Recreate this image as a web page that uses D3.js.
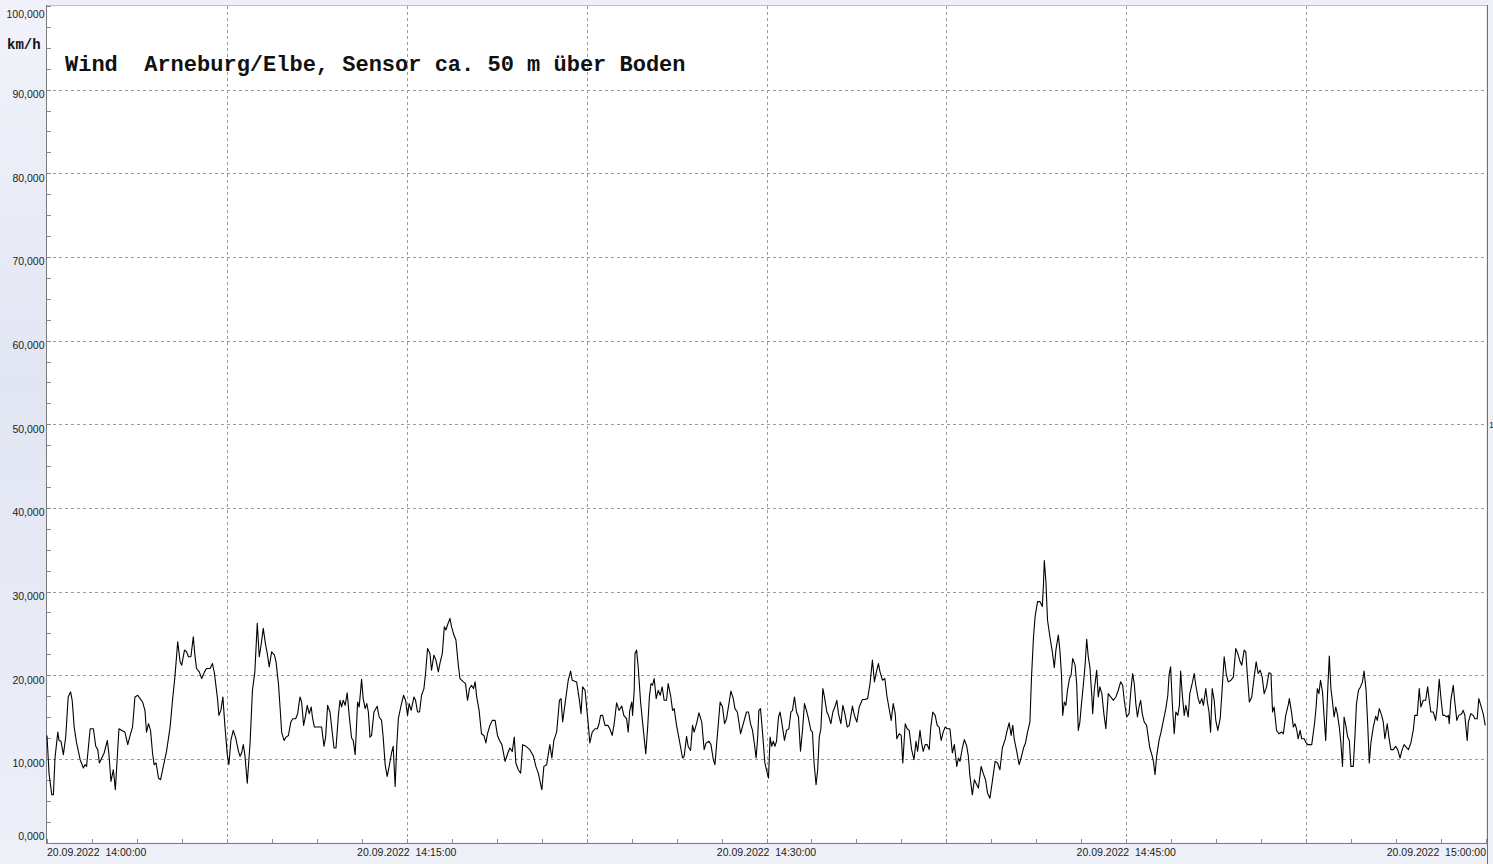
<!DOCTYPE html>
<html>
<head>
<meta charset="utf-8">
<script src="https://cdn.jsdelivr.net/npm/d3@7"></script>
<style>
  html, body { margin: 0; padding: 0; background: #eef0f8; }
  svg { display: block; }
</style>
</head>
<body>
<svg id="chart" width="1493" height="864"></svg>
<script>
// ---------- data ----------
const chartTitle = "Wind  Arneburg/Elbe, Sensor ca. 50 m über Boden";
const unitLabel = "km/h";
const yTickValues = [0, 10, 20, 30, 40, 50, 60, 70, 80, 90, 100];
const xTickSeconds = [0, 900, 1800, 2700, 3600];
const xTickLabels = ["20.09.2022  14:00:00", "20.09.2022  14:15:00", "20.09.2022  14:30:00", "20.09.2022  14:45:00", "20.09.2022  15:00:00"];
const xGridSeconds = [450, 900, 1350, 1800, 2250, 2700, 3150];
const xMinorStep = 112.5;   // seconds between small ticks
const yMinorStep = 2.5;     // km/h between small ticks
const rightMarker = "1";

// [seconds after 14:00:00, wind speed km/h]
const windSamples = [
[0,12.8],[5,8.3],[12,5.7],[16,5.7],[20,10.1],[27,13.2],[30,12.2],[35,12.1],[41,10.5],[47,12.7],[53,17.4],[59,18.0],[63,17.0],[68,13.8],[74,11.9],[83,9.9],[91,8.9],[95,9.3],[99,9.1],[108,13.6],[116,13.6],[122,11.5],[127,11.1],[131,9.5],[135,9.9],[143,10.7],[151,12.2],[155,10.5],[160,7.3],[166,8.7],[171,6.3],[180,13.6],[187,13.4],[195,13.2],[202,11.7],[208,12.8],[214,13.8],[220,17.4],[227,17.6],[233,17.2],[239,16.8],[245,15.8],[249,13.2],[254,14.2],[259,13.4],[264,10.7],[268,9.3],[273,9.5],[279,7.7],[284,7.5],[291,9.1],[299,10.9],[308,13.8],[314,17.0],[320,19.8],[327,24.0],[333,21.6],[337,21.2],[344,23.0],[349,22.8],[354,22.2],[360,22.2],[366,24.6],[370,22.4],[374,20.8],[381,20.4],[387,19.6],[394,20.4],[399,20.8],[408,20.8],[414,21.4],[419,20.2],[423,18.6],[427,17.0],[430,15.2],[435,15.8],[440,17.4],[445,14.0],
[451,10.5],[455,9.3],[460,12.2],[466,13.4],[472,12.5],[479,10.9],[483,10.3],[487,10.7],[491,11.7],[495,10.5],[501,7.1],[508,11.9],[514,18.2],[520,20.4],[526,26.2],[531,22.2],[535,23.4],[541,25.6],[547,23.6],[551,22.6],[556,21.0],[562,22.8],[569,22.4],[573,21.6],[579,19.0],[583,16.2],[587,13.2],[593,12.2],[598,12.6],[604,12.8],[610,14.4],[615,14.8],[622,14.8],[627,15.4],[633,17.4],[637,16.8],[642,14.0],[647,15.2],[651,16.4],[656,15.4],[661,16.2],[664,15.0],[669,13.8],[677,13.8],[687,13.8],[693,11.5],[697,12.6],[702,16.4],[708,15.6],[714,13.0],[718,11.3],[723,11.3],[729,15.2],[733,17.0],[737,16.2],[741,17.0],[746,16.4],[751,17.9],[756,15.2],[762,12.5],[766,12.2],[771,10.5],[775,14.6],[777,16.8],[781,16.2],[787,19.5],[791,17.2],[796,16.0],[800,16.6],[804,15.6],[808,12.6],[812,12.8],[818,15.6],[826,16.3],[831,15.0],[837,14.6],[841,12.6],[846,9.3],[851,7.9],[856,9.1],[862,10.7],[866,11.5],[871,6.7],[875,11.5],[879,14.8],[885,16.2],[892,17.6],[897,17.0],[902,15.2],
[906,16.6],[911,15.8],[918,17.4],[922,17.0],[927,15.6],[932,15.6],[937,17.6],[943,18.4],[947,20.2],[952,23.2],[958,22.6],[962,20.6],[968,22.4],[973,21.8],[979,20.4],[983,21.4],[989,22.6],[994,25.8],[998,25.4],[1002,26.0],[1008,26.8],[1012,25.8],[1018,24.8],[1023,24.2],[1029,21.2],[1033,19.6],[1042,19.2],[1047,19.0],[1052,17.0],[1057,18.4],[1062,18.8],[1067,18.4],[1071,19.2],[1075,17.4],[1081,15.8],[1087,13.0],[1093,12.8],[1098,11.9],[1102,13.0],[1108,14.0],[1114,14.6],[1121,14.6],[1127,12.8],[1132,12.2],[1138,11.7],[1146,9.7],[1153,10.7],[1158,11.3],[1164,10.9],[1169,12.6],[1173,9.5],[1179,8.7],[1185,8.3],[1190,11.7],[1198,11.5],[1208,11.1],[1217,10.3],[1223,9.1],[1229,8.3],[1238,6.3],[1243,9.1],[1250,9.3],[1254,10.5],[1258,11.7],[1263,10.1],[1268,12.2],[1275,13.2],[1282,17.0],[1286,17.2],[1290,14.4],[1296,16.6],[1304,19.4],[1310,20.5],[1314,19.4],[1325,19.2],[1332,17.0],[1336,15.4],[1340,18.6],[1346,18.2],[1350,16.2],[1354,14.2],
[1358,11.9],[1364,13.2],[1371,13.6],[1377,13.6],[1381,14.2],[1385,15.2],[1390,15.2],[1396,14.0],[1403,14.0],[1408,13.6],[1414,12.8],[1419,14.2],[1425,16.7],[1431,15.8],[1438,16.3],[1443,15.2],[1450,14.8],[1454,13.2],[1458,15.8],[1463,16.8],[1465,15.2],[1469,18.2],[1471,22.6],[1475,23.0],[1479,21.0],[1485,16.8],[1492,13.4],[1498,10.6],[1503,14.0],[1507,17.4],[1511,19.0],[1515,18.8],[1519,19.6],[1524,17.2],[1529,18.2],[1534,17.6],[1539,18.6],[1544,17.0],[1550,17.0],[1554,19.0],[1560,17.6],[1565,15.8],[1569,16.0],[1575,14.0],[1582,12.2],[1590,10.1],[1594,10.3],[1600,12.7],[1604,11.5],[1610,11.0],[1615,14.0],[1619,13.2],[1625,14.2],[1631,15.5],[1638,14.4],[1644,11.1],[1649,11.9],[1656,12.1],[1661,11.7],[1667,9.9],[1671,9.3],[1676,12.2],[1684,16.8],[1690,16.2],[1695,14.2],[1700,14.8],[1706,16.6],[1711,18.1],[1717,17.2],[1721,16.0],[1727,15.6],[1731,14.4],[1735,13.0],[1742,14.2],[1750,15.6],[1755,15.6],[1760,14.2],[1765,13.4],[1770,11.7],[1774,10.1],[1778,12.6],[1781,15.8],[1785,16.0],[1790,13.2],[1796,9.5],
[1805,7.7],[1809,12.6],[1813,11.5],[1817,12.1],[1821,11.5],[1825,12.1],[1830,15.0],[1834,15.6],[1840,13.8],[1845,12.2],[1850,13.4],[1856,13.6],[1861,15.6],[1865,15.8],[1870,17.4],[1875,15.6],[1880,15.0],[1885,10.9],[1890,13.4],[1895,16.6],[1901,15.6],[1905,14.8],[1911,13.4],[1915,13.2],[1919,9.5],[1924,6.9],[1928,8.7],[1932,12.6],[1936,13.6],[1941,18.4],[1945,17.4],[1951,15.6],[1955,15.2],[1961,14.2],[1966,15.6],[1971,16.2],[1976,17.0],[1980,15.4],[1986,14.2],[1991,16.4],[1996,15.4],[2002,13.8],[2007,14.0],[2015,16.3],[2020,15.2],[2026,14.4],[2032,16.2],[2040,17.1],[2046,17.1],[2053,17.2],[2059,19.0],[2065,21.8],[2070,19.2],[2074,20.2],[2080,21.4],[2084,20.4],[2090,19.4],[2096,19.6],[2101,17.6],[2106,16.2],[2112,14.6],[2117,16.6],[2122,15.4],[2126,12.4],[2132,13.0],[2137,12.8],[2141,9.5],[2147,14.2],[2152,13.6],[2157,13.4],[2163,11.1],[2169,9.9],[2174,12.1],[2178,10.9],[2184,13.4],[2188,11.9],[2192,10.9],[2197,11.7],[2202,11.7],[2207,11.1],[2211,13.8],[2216,15.6],[2222,15.2],[2227,14.0],[2232,13.8],[2237,12.2],[2242,13.2],[2247,13.8],[2252,13.6],
[2259,13.6],[2265,10.7],[2270,11.7],[2276,9.1],[2280,10.1],[2284,9.7],[2290,11.3],[2295,12.3],[2301,11.5],[2305,10.3],[2309,7.9],[2315,5.7],[2320,7.5],[2326,6.9],[2330,6.5],[2337,9.1],[2342,8.3],[2348,7.5],[2353,5.9],[2359,5.3],[2365,7.3],[2372,9.7],[2378,9.5],[2384,8.7],[2390,11.3],[2397,12.3],[2401,13.2],[2407,14.3],[2412,12.8],[2416,14.0],[2420,12.3],[2426,10.9],[2432,9.3],[2437,10.1],[2443,11.3],[2448,11.9],[2453,13.2],[2459,14.4],[2463,19.8],[2468,24.6],[2472,27.0],[2478,28.8],[2484,28.8],[2490,28.2],[2493,31.0],[2495,33.7],[2499,31.2],[2503,26.6],[2509,24.6],[2515,22.8],[2520,20.9],[2524,23.0],[2530,24.8],[2534,23.0],[2538,20.0],[2541,15.2],[2545,16.8],[2549,16.4],[2553,18.2],[2558,19.6],[2562,20.0],[2566,22.0],[2572,21.2],[2576,19.0],[2580,13.4],[2584,14.4],[2588,16.6],[2593,19.0],[2597,21.2],[2601,24.3],[2605,22.2],[2609,21.0],[2614,17.4],[2616,15.4],[2620,18.2],[2626,20.6],[2630,17.4],[2634,18.6],[2639,17.8],[2644,15.4],[2649,13.6],[2655,17.8],[2661,17.4],[2668,17.0],[2674,17.4],[2680,18.2],[2686,19.2],[2691,18.8],[2695,17.0],[2701,15.0],
[2707,15.4],[2712,18.4],[2716,20.2],[2720,19.0],[2724,16.6],[2728,15.0],[2732,16.2],[2736,17.0],[2740,15.4],[2745,14.4],[2751,14.0],[2755,12.6],[2759,11.3],[2764,10.5],[2768,9.7],[2772,8.1],[2776,10.3],[2782,12.2],[2787,13.2],[2793,14.6],[2799,16.0],[2804,17.6],[2807,20.0],[2811,21.0],[2815,16.8],[2820,13.0],[2824,15.6],[2829,15.2],[2833,16.4],[2836,20.5],[2840,17.8],[2845,15.2],[2849,16.4],[2855,15.0],[2859,17.8],[2864,18.8],[2870,20.2],[2874,18.8],[2880,17.2],[2884,16.6],[2889,17.2],[2893,16.4],[2899,18.4],[2903,16.8],[2907,15.6],[2911,13.2],[2915,18.4],[2920,17.0],[2924,14.6],[2929,13.4],[2935,14.8],[2940,18.4],[2945,22.2],[2950,20.2],[2955,19.2],[2962,19.4],[2968,19.8],[2974,23.2],[2979,22.6],[2985,21.6],[2989,21.2],[2995,23.0],[2999,22.8],[3003,20.0],[3008,16.8],[3014,17.4],[3020,19.8],[3025,21.6],[3030,20.2],[3035,20.6],[3040,19.8],[3045,17.8],[3051,18.6],[3057,20.3],[3062,20.2],[3066,15.6],[3070,16.2],[3076,13.4],[3082,13.0],[3089,13.2],[3093,13.0],[3099,15.2],[3106,16.6],[3108,17.2],[3114,15.4],[3118,13.8],[3122,14.2],[3126,13.6],[3130,12.4],[3135,13.4],[3139,12.4],[3145,12.4],[3149,12.0],[3154,11.7],
[3160,11.7],[3164,11.7],[3171,14.2],[3175,16.2],[3178,18.4],[3182,17.8],[3186,19.4],[3191,18.0],[3195,15.0],[3199,12.2],[3204,18.2],[3208,22.3],[3212,18.4],[3216,16.8],[3220,15.0],[3224,16.2],[3228,15.4],[3233,13.8],[3237,11.9],[3241,9.1],[3245,15.0],[3250,13.8],[3254,12.6],[3258,12.2],[3262,9.1],[3268,9.1],[3272,12.6],[3276,16.6],[3281,18.2],[3286,18.6],[3291,19.2],[3295,20.5],[3300,18.2],[3304,14.2],[3308,9.5],[3312,11.9],[3318,13.8],[3324,15.1],[3328,14.6],[3333,16.0],[3339,15.2],[3343,14.4],[3347,12.4],[3353,14.2],[3357,12.6],[3362,11.1],[3368,11.1],[3374,11.5],[3379,11.1],[3385,10.1],[3389,10.9],[3395,11.7],[3402,11.3],[3406,11.1],[3412,11.9],[3418,13.4],[3422,15.2],[3428,15.2],[3433,18.4],[3437,16.2],[3443,17.0],[3449,17.0],[3454,18.6],[3458,17.0],[3462,15.6],[3468,15.6],[3474,14.6],[3478,16.2],[3483,19.5],[3487,17.4],[3492,15.2],[3497,15.2],[3502,15.0],[3506,15.2],[3508,14.2],[3512,17.0],[3518,18.8],[3522,16.8],[3527,14.6],[3532,15.2],[3539,15.4],[3543,15.8],[3547,15.2],[3553,12.2],[3556,14.4],[3562,15.4],[3568,15.2],[3572,14.8],[3578,14.8],[3582,17.2],[3587,16.4],[3593,15.4],[3598,14.0]
];

// ---------- layout ----------
const W = 1493, H = 864;
const plot = { left: 47, right: 1486, top: 6, bottom: 842.5 };

const svg = d3.select("#chart");
const defs = svg.append("defs");
const lg = defs.append("linearGradient").attr("id", "leftBg").attr("x1", 0).attr("y1", 0).attr("x2", 0).attr("y2", 1);
lg.append("stop").attr("offset", "0%").attr("stop-color", "#f2f3fa");
lg.append("stop").attr("offset", "45%").attr("stop-color", "#e2e6f3");
lg.append("stop").attr("offset", "100%").attr("stop-color", "#eceff8");

svg.append("rect").attr("x", 0).attr("y", 0).attr("width", W).attr("height", H).attr("fill", "#eef0f8");
svg.append("rect").attr("x", 0).attr("y", 0).attr("width", plot.left).attr("height", plot.bottom).attr("fill", "url(#leftBg)");

const x = d3.scaleLinear().domain([0, 3600]).range([plot.left, plot.right]);
const y = d3.scaleLinear().domain([0, 100]).range([plot.bottom, plot.top]);

// plot background
svg.append("rect")
  .attr("x", plot.left).attr("y", plot.top)
  .attr("width", plot.right - plot.left).attr("height", plot.bottom - plot.top)
  .attr("fill", "#ffffff");

// grid lines
const grid = svg.append("g").attr("stroke", "#9a9a9a").attr("stroke-width", 1).attr("stroke-dasharray", "3,3").attr("shape-rendering", "crispEdges");
grid.selectAll("line.h").data(yTickValues.filter(v => v > 0 && v < 100)).join("line")
  .attr("x1", plot.left).attr("x2", plot.right)
  .attr("y1", d => Math.round(y(d)) + 0.5).attr("y2", d => Math.round(y(d)) + 0.5);
grid.selectAll("line.v").data(xGridSeconds).join("line")
  .attr("y1", plot.top).attr("y2", plot.bottom)
  .attr("x1", d => Math.round(x(d)) + 0.5).attr("x2", d => Math.round(x(d)) + 0.5);

// frame
const frame = svg.append("g").attr("shape-rendering", "crispEdges").attr("stroke-width", 1);
frame.append("line").attr("x1", plot.left).attr("x2", plot.right + 1).attr("y1", plot.top - 0.5).attr("y2", plot.top - 0.5).attr("stroke", "#b8bccb");
frame.append("line").attr("x1", plot.right + 1.5).attr("x2", plot.right + 1.5).attr("y1", plot.top - 1).attr("y2", H).attr("stroke", "#707070");
frame.append("line").attr("x1", plot.left - 0.5).attr("x2", plot.left - 0.5).attr("y1", plot.top - 1).attr("y2", plot.bottom + 1).attr("stroke", "#7a7a7a");
frame.append("line").attr("x1", plot.left - 1).attr("x2", plot.right + 1).attr("y1", Math.round(plot.bottom) + 0.5).attr("y2", Math.round(plot.bottom) + 0.5).attr("stroke", "#7a7a7a");

// y minor ticks (inside, from the left axis)
const yMinor = d3.range(0, 100 + 0.001, yMinorStep);
svg.append("g").attr("stroke", "#8a8a8a").attr("shape-rendering", "crispEdges")
  .selectAll("line").data(yMinor).join("line")
  .attr("x1", plot.left).attr("x2", plot.left + 4)
  .attr("y1", d => Math.round(y(d)) + 0.5).attr("y2", d => Math.round(y(d)) + 0.5);

// x minor ticks (inside, from the bottom axis)
const xMinor = d3.range(0, 3600 + 0.001, xMinorStep);
svg.append("g").attr("stroke", "#8a8a8a").attr("shape-rendering", "crispEdges")
  .selectAll("line").data(xMinor).join("line")
  .attr("y1", Math.round(plot.bottom)).attr("y2", Math.round(plot.bottom) - 4)
  .attr("x1", d => Math.round(x(d)) + 0.5).attr("x2", d => Math.round(x(d)) + 0.5);

// y labels
const fmt = v => d3.format(".3f")(v).replace(".", ",");
svg.append("g").attr("font-family", "'Liberation Sans', Arial, sans-serif").attr("font-size", "10.5px").attr("fill", "#222")
  .selectAll("text").data(yTickValues).join("text")
  .attr("x", 44.5)
  .attr("y", d => Math.min(840, Math.max(17.5, y(d) + 8.5)))
  .attr("text-anchor", "end")
  .text(d => fmt(d));

// x labels
svg.append("g").attr("font-family", "'Liberation Sans', Arial, sans-serif").attr("font-size", "10.5px").attr("fill", "#222")
  .selectAll("text").data(xTickSeconds).join("text")
  .attr("x", d => x(d))
  .attr("y", 856)
  .attr("text-anchor", (d, i) => i === 0 ? "start" : (i === xTickSeconds.length - 1 ? "end" : "middle"))
  .style("white-space", "pre")
  .text((d, i) => xTickLabels[i]);

// unit label
svg.append("text").attr("x", 7).attr("y", 48.5)
  .attr("font-family", "'Liberation Mono', 'Courier New', monospace").attr("font-weight", "bold").attr("font-size", "14px").attr("fill", "#111")
  .text(unitLabel);

// title
svg.append("text").attr("x", 65).attr("y", 71)
  .attr("font-family", "'Liberation Mono', 'Courier New', monospace").attr("font-weight", "bold").attr("font-size", "22px").attr("fill", "#111")
  .style("white-space", "pre")
  .text(chartTitle);

// right marker
svg.append("text").attr("x", 1489).attr("y", 428)
  .attr("font-family", "'Liberation Sans', Arial, sans-serif").attr("font-size", "9px").attr("fill", "#333")
  .text(rightMarker);

// data line
const line = d3.line().x(d => x(d[0])).y(d => y(d[1]));
svg.append("path").datum(windSamples)
  .attr("d", line)
  .attr("fill", "none").attr("stroke", "#000").attr("stroke-width", 1.1).attr("stroke-linejoin", "round");
</script>
</body>
</html>
